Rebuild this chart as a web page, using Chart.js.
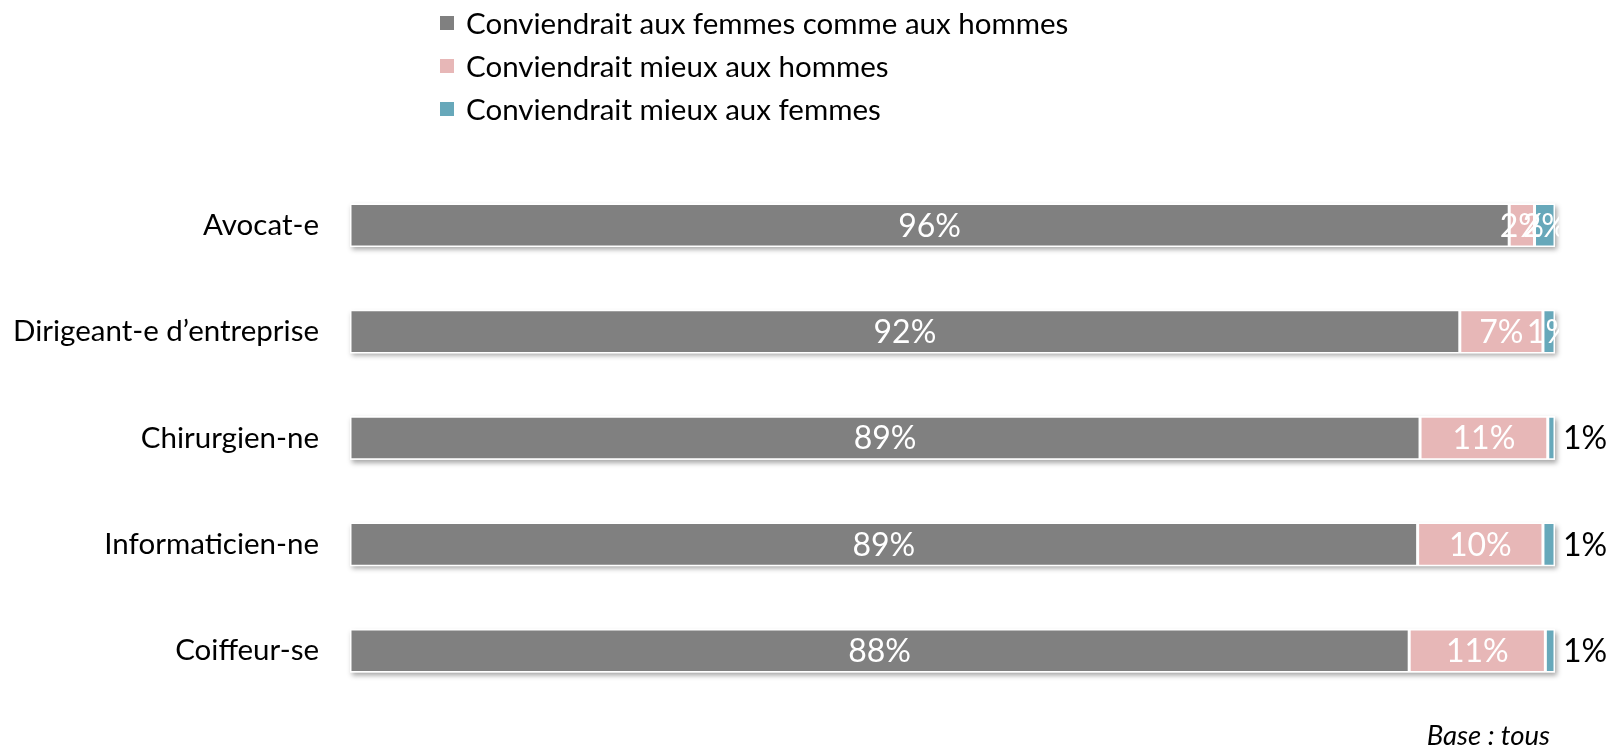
<!DOCTYPE html>
<html lang="fr">
<head>
<meta charset="utf-8">
<title>Conviendrait aux femmes / aux hommes</title>
<script src="https://cdn.jsdelivr.net/npm/chart.js@4.4.1/dist/chart.umd.min.js"></script>
<style>
    html, body { margin: 0; padding: 0; background: #fff; }
    #wrap { position: relative; width: 1616px; height: 747px; overflow: hidden; }
    #legend { position: absolute; left: 440px; top: 0; font-family: Lato, "Open Sans", sans-serif; font-size: 29.5px; color: #000; }
    .item { position: absolute; left: 0; white-space: nowrap; height: 34px; line-height: 34px; }
    .box { position: absolute; left: 0; top: 10px; width: 14px; height: 14px; }
    .txt { position: absolute; left: 26px; top: 0; }
    #base { position: absolute; right: 66px; top: 720px; font-family: Lato, "Open Sans", sans-serif; font-style: italic; font-size: 27.5px; color: #000; line-height: 30px; }
</style>
</head>
<body>
<div id="wrap">
    <canvas id="metiersChart" width="1616" height="747"></canvas>
    <div id="legend"></div>
    <div id="base">Base : tous</div>
</div>
<script>
const metiers = ['Avocat-e', 'Dirigeant-e d\u2019entreprise', 'Chirurgien-ne', 'Informaticien-ne', 'Coiffeur-se'];
const commeAux = [96.2, 92.1, 88.8, 88.6, 87.9];
const mieuxHommes = [2.1, 6.9, 10.6, 10.4, 11.3];
const mieuxFemmes = [1.7, 1.0, 0.6, 1.0, 0.8];
const seriesNames = ['Conviendrait aux femmes comme aux hommes', 'Conviendrait mieux aux hommes', 'Conviendrait mieux aux femmes'];

const couleurs = ['#808080', '#E7B7B7', '#67A8BA'];
const fontFamily = 'Lato, "Open Sans", sans-serif';

// les petites valeurs "mieux aux femmes" sont ecrites a droite de la barre
const labelDehors = ['Chirurgien-ne', 'Informaticien-ne', 'Coiffeur-se'];

const shadowPlugin = {
    id: 'barShadow',
    beforeDatasetsDraw(chart) {
        const ctx = chart.ctx;
        const x = chart.scales.x;
        const meta = chart.getDatasetMeta(0);
        ctx.save();
        ctx.shadowColor = 'rgba(0,0,0,0.35)';
        ctx.shadowBlur = 5;
        ctx.shadowOffsetX = 2;
        ctx.shadowOffsetY = 3;
        ctx.fillStyle = '#ffffff';
        meta.data.forEach((bar, i) => {
            const total = chart.data.datasets.reduce((s, d) => s + d.data[i], 0);
            const left = x.getPixelForValue(0);
            const right = x.getPixelForValue(total);
            ctx.fillRect(left, bar.y - bar.height / 2, right - left, bar.height);
        });
        ctx.restore();
    }
};

const labelPlugin = {
    id: 'valeurs',
    afterDatasetsDraw(chart) {
        const ctx = chart.ctx;
        const area = chart.chartArea;
        ctx.save();
        ctx.font = '32px ' + fontFamily;
        ctx.textBaseline = 'middle';
        chart.data.datasets.forEach((ds, di) => {
            const meta = chart.getDatasetMeta(di);
            meta.data.forEach((bar, i) => {
                const txt = Math.round(ds.data[i]) + '%';
                const props = bar.getProps(['x', 'y', 'base'], true);
                if (di === 2 && labelDehors.includes(chart.data.labels[i])) {
                    ctx.fillStyle = '#000';
                    ctx.textAlign = 'left';
                    ctx.fillText(txt, props.x + 8, props.y + 1);
                } else {
                    ctx.save();
                    ctx.beginPath();
                    ctx.rect(area.left, area.top, area.right - area.left + 4, area.bottom - area.top);
                    ctx.clip();
                    ctx.fillStyle = '#fff';
                    ctx.textAlign = 'center';
                    ctx.fillText(txt, (props.x + props.base) / 2, props.y + 1);
                    ctx.restore();
                }
            });
        });
        ctx.restore();
    }
};

const chart = new Chart(document.getElementById('metiersChart'), {
    type: 'bar',
    data: {
        labels: metiers,
        datasets: [commeAux, mieuxHommes, mieuxFemmes].map((vals, k) => ({
            label: seriesNames[k],
            data: vals,
            backgroundColor: couleurs[k],
            borderColor: '#ffffff',
            borderWidth: 1.5,
            borderSkipped: false,
            categoryPercentage: 1,
            barPercentage: 0.41
        }))
    },
    options: {
        indexAxis: 'y',
        responsive: false,
        animation: false,
        devicePixelRatio: 1,
        layout: { padding: { top: 172, bottom: 43, left: 0, right: 61 } },
        plugins: {
            legend: { display: false },
            tooltip: { enabled: false }
        },
        scales: {
            x: {
                stacked: true,
                min: 0,
                max: 100,
                display: false
            },
            y: {
                stacked: true,
                grid: { display: false },
                border: { display: false },
                afterFit(scale) { scale.width = 350; },
                ticks: {
                    color: '#000',
                    padding: 23,
                    font: { family: fontFamily, size: 29.5 }
                }
            }
        }
    },
    plugins: [shadowPlugin, labelPlugin]
});

// legende verticale construite a partir des datasets
const legend = document.getElementById('legend');
const legendTops = [6, 49, 92];
chart.data.datasets.forEach((ds, i) => {
    const item = document.createElement('div');
    item.className = 'item';
    item.style.top = legendTops[i] + 'px';
    item.innerHTML = '<span class="box" style="background:' + ds.backgroundColor + '"></span><span class="txt">' + ds.label + '</span>';
    legend.appendChild(item);
});
</script>
</body>
</html>
